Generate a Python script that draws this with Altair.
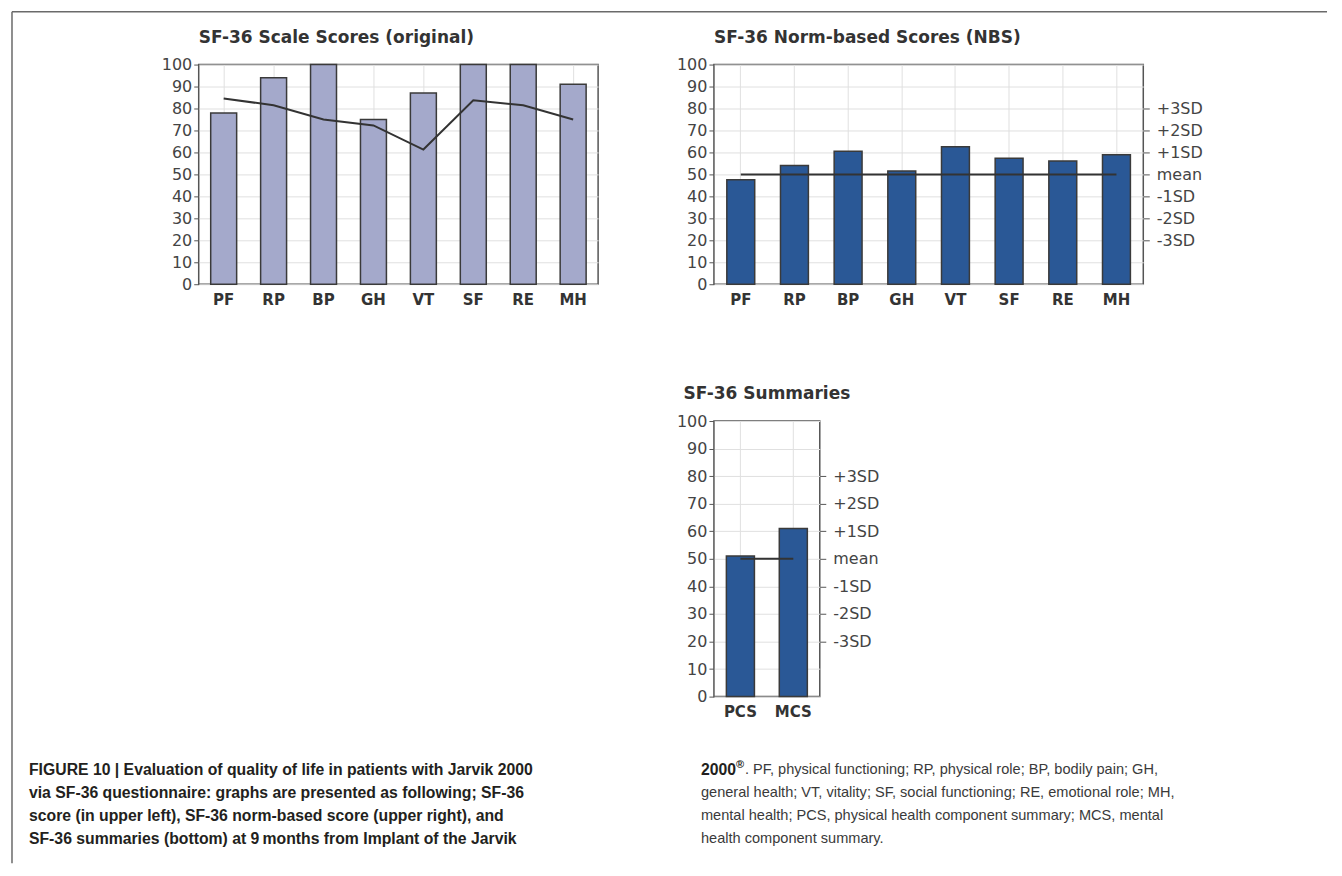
import altair as alt
import pandas as pd

# ---------------- data ----------------
scales = ["PF", "RP", "BP", "GH", "VT", "SF", "RE", "MH"]
orig_scores = [78, 94, 100, 75, 87, 100, 100, 91]
orig_norm_line = [84.5, 81.5, 75, 72.3, 61.3, 83.7, 81.5, 75]
nbs_scores = [47.6, 54, 60.5, 51.6, 62.6, 57.4, 56.1, 59]
summary_cats = ["PCS", "MCS"]
summary_scores = [51, 61]
norm_mean = 50

y_ticks = [0, 10, 20, 30, 40, 50, 60, 70, 80, 90, 100]
sd_values = [20, 30, 40, 50, 60, 70, 80]
sd_labels = ["-3SD", "-2SD", "-1SD", "mean", "+1SD", "+2SD", "+3SD"]

title_orig = "SF-36 Scale Scores (original)"
title_nbs = "SF-36 Norm-based Scores (NBS)"
title_sum = "SF-36 Summaries"

caption_left = [
    "FIGURE 10 | Evaluation of quality of life in patients with Jarvik 2000",
    "via SF-36 questionnaire: graphs are presented as following; SF-36",
    "score (in upper left), SF-36 norm-based score (upper right), and",
    "SF-36 summaries (bottom) at 9\u2009months from Implant of the Jarvik",
]
caption_right_bold = "2000"
caption_right_mark = "\u00ae"
caption_right = [
    ". PF, physical functioning; RP, physical role; BP, bodily pain; GH,",
    "general health; VT, vitality; SF, social functioning; RE, emotional role; MH,",
    "mental health; PCS, physical health component summary; MCS, mental",
    "health component summary.",
]

# ---------------- styles ----------------
AX_FONT = "DejaVu Sans"
GRID = "#e0e0e0"
FRAME = "#555555"
BAR_LIGHT = "#a4a9cb"
BAR_DARK = "#2a5896"
OUTLINE = "#3a3a3a"
LABEL_SIZE = 16

sd_expr = " : ".join(
    f"datum.value == {v} ? '{l}'" for v, l in zip(sd_values, sd_labels)
) + " : ''"

def y_left_axis():
    return alt.Axis(values=y_ticks, labelFont=AX_FONT, labelFontSize=LABEL_SIZE,
                    labelColor="#444", tickColor=FRAME, tickSize=5,
                    labelPadding=2, labelOverlap=False, domain=False,
                    gridColor=GRID, title=None)

def y_right_axis():
    return alt.Axis(orient="right", values=sd_values, labelExpr=sd_expr,
                    labelFont=AX_FONT, labelFontSize=LABEL_SIZE, labelColor="#444",
                    tickColor=FRAME, tickSize=6, labelPadding=7,
                    labelOverlap=False, domain=False, grid=False, title=None)

def x_axis():
    return alt.Axis(labelFont=AX_FONT, labelFontWeight="bold", labelFontSize=15,
                    labelColor="#333", ticks=False, domain=False, labelAngle=0,
                    labelPadding=8, grid=True, gridColor=GRID, bandPosition=0.5,
                    title=None)

band = alt.Scale(paddingInner=0.48, paddingOuter=0.24)
yscale = alt.Scale(domain=[0, 100], nice=False)

def ttl(text, anchor):
    return alt.TitleParams(text=text, anchor=anchor, frame="group", font=AX_FONT,
                           fontSize=17, fontWeight="bold", color="#333", offset=10)

# ---------------- top-left ----------------
df_orig = pd.DataFrame({"scale": scales, "score": orig_scores, "norm": orig_norm_line})
base_tl = alt.Chart(df_orig)
bars_tl = base_tl.mark_bar(color=BAR_LIGHT, stroke=OUTLINE, strokeWidth=1.5).encode(
    x=alt.X("scale:N", sort=scales, scale=band, axis=x_axis()),
    y=alt.Y("score:Q", scale=yscale, axis=y_left_axis()),
)
line_tl = base_tl.mark_line(color="#333", strokeWidth=2).encode(
    x=alt.X("scale:N", sort=scales, scale=band, axis=x_axis()),
    y=alt.Y("norm:Q", scale=yscale, axis=y_left_axis()),
)
tl = alt.layer(bars_tl, line_tl).properties(
    width=400, height=220, title=ttl(title_orig, "start"))

# ---------------- top-right ----------------
df_nbs = pd.DataFrame({"scale": scales, "score": nbs_scores, "mean": [norm_mean] * len(scales)})
base_tr = alt.Chart(df_nbs)
bars_tr = base_tr.mark_bar(color=BAR_DARK, stroke=OUTLINE, strokeWidth=1.5).encode(
    x=alt.X("scale:N", sort=scales, scale=band, axis=x_axis()),
    y=alt.Y("score:Q", scale=yscale, axis=y_left_axis()),
)
mean_tr = base_tr.mark_line(color="#333", strokeWidth=2).encode(
    x=alt.X("scale:N", sort=scales),
    y=alt.Y("mean:Q", scale=yscale, axis=y_right_axis()),
)
tr = alt.layer(bars_tr, mean_tr).resolve_scale(y="independent").properties(
    width=430, height=220, title=ttl(title_nbs, "start"))

# ---------------- bottom ----------------
df_sum = pd.DataFrame({"cat": summary_cats, "score": summary_scores,
                       "mean": [norm_mean] * len(summary_cats)})
base_b = alt.Chart(df_sum)
bars_b = base_b.mark_bar(color=BAR_DARK, stroke=OUTLINE, strokeWidth=1.5).encode(
    x=alt.X("cat:N", sort=summary_cats,
            scale=alt.Scale(paddingInner=0.47, paddingOuter=0.235), axis=x_axis()),
    y=alt.Y("score:Q", scale=yscale, axis=y_left_axis()),
)
mean_b = base_b.mark_line(color="#333", strokeWidth=2).encode(
    x=alt.X("cat:N", sort=summary_cats),
    y=alt.Y("mean:Q", scale=yscale, axis=y_right_axis()),
)
bottom = alt.layer(bars_b, mean_b).resolve_scale(y="independent").properties(
    width=106, height=276, title=ttl(title_sum, "middle"))

# ---------------- caption + figure frame (also the spacer left of the bottom chart) ----------------
cap_l = pd.DataFrame({"row": list(range(len(caption_left))), "text": caption_left})
cap_r = pd.DataFrame({"row": list(range(len(caption_right))), "text": caption_right})
cap_b = pd.DataFrame({"row": [0], "text": [caption_right_bold], "mark": [caption_right_mark]})
rowscale = alt.Scale(domain=[0, 3], range=[350, 419])

cap_left = alt.Chart(cap_l).mark_text(
    align="left", baseline="middle", font="Liberation Sans", fontSize=15.8,
    fontWeight="bold", color="#231f20").encode(
    x=alt.value(-170), y=alt.Y("row:Q", scale=rowscale, axis=None), text="text:N")
cap_right0 = alt.Chart(cap_r).transform_filter("datum.row == 0").mark_text(
    align="left", baseline="middle", font="Liberation Sans", fontSize=14.6,
    color="#3a3a3a").encode(
    x=alt.value(547), y=alt.Y("row:Q", scale=rowscale, axis=None), text="text:N")
cap_r_rest = alt.Chart(cap_r).transform_filter("datum.row > 0").mark_text(
    align="left", baseline="middle", font="Liberation Sans", fontSize=14.6,
    color="#3a3a3a").encode(
    x=alt.value(503), y=alt.Y("row:Q", scale=rowscale, axis=None), text="text:N")
cap_rb = alt.Chart(cap_b).mark_text(
    align="left", baseline="middle", font="Liberation Sans", fontSize=15.8,
    fontWeight="bold", color="#231f20").encode(
    x=alt.value(503), y=alt.Y("row:Q", scale=rowscale, axis=None), text="text:N")
cap_rm = alt.Chart(cap_b).mark_text(
    align="left", baseline="middle", font="Liberation Sans", fontSize=11,
    fontWeight="bold", color="#231f20", dy=-6).encode(
    x=alt.value(538), y=alt.Y("row:Q", scale=rowscale, axis=None), text="mark:N")

frame_df = pd.DataFrame({"k": [0]})
border_h = alt.Chart(frame_df).mark_rule(color="#6a6a6a", strokeWidth=1.5).encode(
    x=alt.value(-187), x2=alt.value(1130), y=alt.value(-410))
border_v = alt.Chart(frame_df).mark_rule(color="#6a6a6a", strokeWidth=1.5).encode(
    x=alt.value(-187), y=alt.value(-410), y2=alt.value(443))

caption = alt.layer(cap_left, cap_r_rest, cap_right0, cap_rb, cap_rm,
                    border_h, border_v).properties(
    width=314, height=276, view=alt.ViewBackground(stroke="transparent"))

chart = alt.concat(
    tl, tr, caption, bottom, columns=2, align="none", bounds="flush",
    spacing={"row": 137, "column": 116},
).properties(
    padding={"left": 2, "top": 1, "right": 5, "bottom": 5},
    background="white",
).configure_view(stroke=FRAME, strokeWidth=1.5)

chart.save("out.html", embed_options={"renderer": "svg", "actions": False})
